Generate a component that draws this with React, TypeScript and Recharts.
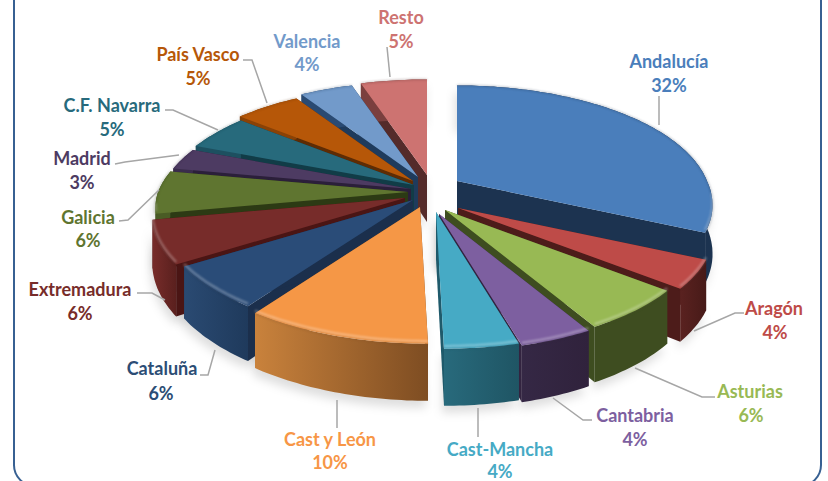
import React from 'react';
import { PieChart, Pie } from 'recharts';

// ---- data ----
const categories = ['Andalucía', 'Aragón', 'Asturias', 'Cantabria', 'Cast-Mancha', 'Cast y León', 'Cataluña', 'Extremadura', 'Galicia', 'Madrid', 'C.F. Navarra', 'País Vasco', 'Valencia', 'Resto'];
const shares = [32, 4, 6, 4, 4, 10, 6, 6, 6, 3, 5, 5, 4, 5];
const shareLabels = ['32%', '4%', '6%', '4%', '4%', '10%', '6%', '6%', '6%', '3%', '5%', '5%', '4%', '5%'];
const rows = categories.map((name, i) => ({ name, value: shares[i], share: shareLabels[i] }));

// ---- style ----
const topColors = ['#4a7ebb', '#be4b48', '#98b954', '#7d5fa0', '#46aac5', '#f59746', '#2a4c78', '#772c2a', '#5f7530', '#4d3b62', '#276a7c', '#b65708', '#729aca', '#cd7371'];
const faceColors = ['#1c3350', '#4d1c1a', '#3e4d20', '#332440', '#1f5a6b', '#7e4d22', '#1b2f4c', '#4a1514', '#2c3a14', '#2b1f3a', '#113c47', '#5e2c04', '#1f3b5c', '#542b2a'];
const wallStart = ['#1c3350', '#5a2220', '#3e4d20', '#352845', '#286a7c', '#c9823c', '#2a4a72', '#772c2a', '#4a5c25', '#3a2c4c', '#1d5060', '#8a4206', '#2a4a72', '#7a3f3e'];
const wallEnd = ['#1c3350', '#471a18', '#3e4d20', '#30223c', '#1f5564', '#7e4d22', '#1f3a5c', '#5a201e', '#4a5c25', '#3a2c4c', '#1d5060', '#8a4206', '#2a4a72', '#7a3f3e'];
const labelColors = ['#4a7ebb', '#be4b48', '#98b954', '#7d5fa0', '#46aac5', '#f79646', '#2c4d75', '#772c2a', '#5f7530', '#4d3b62', '#276a7c', '#b65708', '#729aca', '#cd7371'];
// pull-out of every wedge on the page
const explodeShift = [[40, -9], [41, 18], [28, 20], [22, 24], [19, 22], [3, 17], [-4, 10], [-12, 8], [-9, 2], [-6, -1], [-3, -5], [-4, -9], [1, -13], [10, -15]];
// painter's order, back to front
const drawOrder = [0, 13, 12, 11, 10, 9, 8, 7, 6, 1, 2, 3, 4, 5];
const labelAt = [[669, 61], [774, 308], [750, 391], [635, 415], [500, 449], [330, 439], [162, 368], [80, 289], [88, 217], [82, 158], [112, 105], [198, 54], [307, 41], [401, 17]];
const labelGap = [24, 24, 24, 24, 22, 23, 25, 24, 23, 24, 24, 24, 23, 24];
const pctDx = [0, 1, 1, 0, 0, 0, -1, 0, 0, 0, 0, 0, 0, 0];
const leaders: number[][][] = [
  [[659, 96], [659, 125]],
  [[694, 331], [735, 313], [744, 313]],
  [[635, 368], [702, 397], [715, 397]],
  [[553, 398], [583, 420], [592, 420]],
  [[478, 408], [478, 437]],
  [[337, 400], [337, 428]],
  [[215, 350], [208, 375], [200, 375]],
  [[165, 300], [152, 293], [137, 293]],
  [[159, 190], [128, 220], [119, 221]],
  [[179, 155], [125, 162], [115, 164]],
  [[218, 130], [173, 110], [165, 110]],
  [[267, 103], [252, 60], [243, 60]],
  [],
  [[390, 77], [387, 47]],
];

const CX = 417, CY = 190, RADIUS = 250, SQUASH = 0.45, PERSP = 0.177, DEPTH = 47, LEAN = 8;
const FONT = 'Lato, Carlito, sans-serif';

type P = { x: number; y: number; s: number };
const project = (cx: number, cy: number, R: number, angle: number, rho: number, i: number): P => {
  const a = (angle * Math.PI) / 180;
  const u = Math.cos(a) * rho;
  const v = -Math.sin(a) * rho;
  const s = 1 / (1 - PERSP * v);
  return {
    x: cx + explodeShift[i][0] + R * u * s + LEAN * Math.max(v, 0),
    y: cy + explodeShift[i][1] + R * SQUASH * v * s,
    s,
  };
};
const down = (p: P): P => ({ x: p.x, y: p.y + DEPTH * p.s, s: p.s });
const poly = (pts: P[], close = true) => pts.map((p, k) => `${k ? 'L' : 'M'}${p.x.toFixed(1)} ${p.y.toFixed(1)}`).join('') + (close ? 'Z' : '');

const geometry = (props: any) => {
  const { cx, cy, outerRadius: R, startAngle, endAngle, index: i } = props;
  const steps = Math.max(4, Math.ceil(Math.abs(endAngle - startAngle)));
  const arc: P[] = [];
  for (let k = 0; k <= steps; k++) arc.push(project(cx, cy, R, startAngle + ((endAngle - startAngle) * k) / steps, 1, i));
  const apex = project(cx, cy, R, 0, 0, i);
  return { arc, apex, i };
};

const ShadowShape = (props: any) => {
  const { arc, apex } = geometry(props);
  const hull = [apex, ...arc, ...arc.map(down).reverse(), down(apex)];
  return <path d={poly(hull)} fill="#000" fillOpacity={0.13} style={{ filter: 'blur(5px)' }} transform="translate(-2 7)" />;
};

const WedgeShape = (props: any) => {
  const { arc, apex, i } = geometry(props);
  const first = arc[0];
  const last = arc[arc.length - 1];
  const low = arc.map(down);
  const gid = `wall-${i}`;
  const xs = arc.map((p) => p.x);
  const front = arc.filter((p) => p.s > 1.02);
  return (
    <g>
      <defs>
        <linearGradient id={gid} gradientUnits="userSpaceOnUse" x1={Math.min(...xs)} y1={0} x2={Math.max(...xs)} y2={0}>
          <stop offset="0%" stopColor={wallStart[i]} />
          <stop offset="100%" stopColor={wallEnd[i]} />
        </linearGradient>
      </defs>
      <path d={poly([apex, first, down(first), down(apex)])} fill={faceColors[i]} />
      <path d={poly([apex, last, down(last), down(apex)])} fill={faceColors[i]} />
      <path d={poly([...arc, ...low.reverse()])} fill={`url(#${gid})`} />
      <path d={poly([apex, ...arc])} fill={topColors[i]} />
      {front.length > 1 && (
        <path d={poly(front.map((p) => ({ ...p, y: p.y - 2.5 })), false)} fill="none" stroke="#fff" strokeOpacity={0.3} strokeWidth={2.5} style={{ filter: 'blur(1.2px)' }} />
      )}
      <path d={poly(arc, false)} fill="none" stroke={faceColors[i]} strokeOpacity={0.3} strokeWidth={1.5} style={{ filter: 'blur(0.8px)' }} />
    </g>
  );
};

const Nothing = () => <g />;

const renderLabel = (props: any) => {
  const i = props.index;
  const [x, y] = labelAt[i];
  const line = leaders[i];
  const style = { fontFamily: FONT, fontSize: 18, fontWeight: 700 };
  return (
    <g key={i}>
      {line.length > 0 && (
        <polyline points={line.map((p) => p.join(',')).join(' ')} fill="none" stroke="#a6a6a6" strokeWidth={1.5} />
      )}
      <text x={x} y={y} textAnchor="middle" dominantBaseline="central" fill={labelColors[i]} style={style}>{rows[i].name}</text>
      <text x={x + pctDx[i]} y={y + labelGap[i]} textAnchor="middle" dominantBaseline="central" fill={labelColors[i]} style={style}>{rows[i].share}</text>
    </g>
  );
};

const pieProps = {
  data: rows,
  dataKey: 'value',
  nameKey: 'name',
  cx: CX,
  cy: CY,
  innerRadius: 0,
  outerRadius: RADIUS,
  startAngle: 90,
  endAngle: -270,
  stroke: 'none',
  isAnimationActive: false,
};

export default function App() {
  return (
    <div style={{ position: 'fixed', left: 0, top: 0, width: 828, height: 481, overflow: 'hidden', background: '#fff' }}>
      <div style={{ position: 'absolute', left: 13, top: -30, width: 805, height: 513, border: '2px solid #376092', borderRadius: 22 }} />
      <div style={{ position: 'absolute', left: 0, top: 0 }}>
        <PieChart width={828} height={481} margin={{ top: 0, right: 0, bottom: 0, left: 0 }}>
          <Pie {...pieProps} shape={ShadowShape} />
          {drawOrder.map((target) => (
            <Pie key={target} {...pieProps} shape={(p: any) => (p.index === target ? <WedgeShape {...p} /> : <g />)} />
          ))}
          <Pie {...pieProps} shape={Nothing} label={renderLabel} labelLine={false} />
        </PieChart>
      </div>
    </div>
  );
}
